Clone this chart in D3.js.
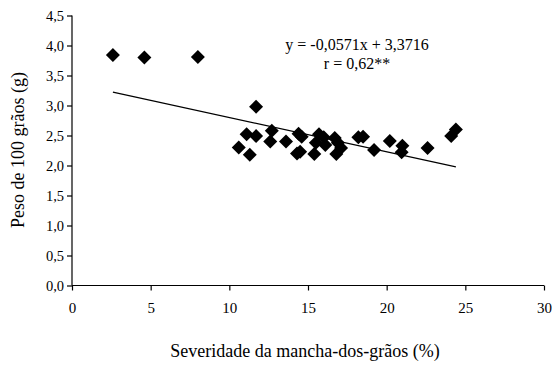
<!DOCTYPE html>
<html>
<head>
	<meta charset="utf-8">
	<title>Peso de 100 grãos x severidade</title>
	<script src="https://d3js.org/d3.v7.min.js"></script>
	<style type="text/css">
		body { margin:0; background:#fff; }
		svg text { font-family:"Liberation Serif","DejaVu Serif",serif; fill:#000; }
		.axis path, .axis line { stroke:#000; stroke-width:1.2; }
	</style>
</head>
<body>
	<script type="text/javascript">

		// severidade (%) e peso de 100 grãos (g)
		var severidade = [2.6, 4.6, 8.0, 11.7, 11.1, 11.7, 10.6, 11.3, 12.7, 12.6, 13.6,
			14.4, 14.6, 14.3, 14.5, 15.7, 15.5, 15.4, 16.0, 16.1, 16.7, 16.9, 16.8, 17.1,
			18.2, 18.5, 19.2, 20.2, 21.0, 20.95, 22.6, 24.1, 24.4];
		var peso = [3.84, 3.80, 3.81, 2.98, 2.52, 2.49, 2.30, 2.18, 2.58, 2.40, 2.40,
			2.53, 2.48, 2.20, 2.23, 2.52, 2.38, 2.19, 2.47, 2.34, 2.46, 2.38, 2.19, 2.29,
			2.47, 2.48, 2.26, 2.41, 2.33, 2.22, 2.29, 2.49, 2.60];

		var xTicks = [0, 5, 10, 15, 20, 25, 30];
		var yTicks = [0, 0.5, 1, 1.5, 2, 2.5, 3, 3.5, 4, 4.5];

		// regressão: y = -0,0571x + 3,3716
		var coefA = -0.0571, coefB = 3.3716;
		var equacao = ["y = -0,0571x + 3,3716", "r = 0,62**"];

		var w = 552, h = 365;
		var svg = d3.select("body").append("svg")
			.attr("width", w)
			.attr("height", h);

		var x = d3.scaleLinear().domain([0, 30]).range([72, 544]);
		var y = d3.scaleLinear().domain([0, 4.5]).range([285.5, 15.5]);

		// eixo x
		svg.append("g")
			.attr("class", "axis")
			.attr("transform", "translate(0," + y(0) + ")")
			.call(d3.axisBottom(x).tickValues(xTicks).tickSize(5).tickPadding(12)
				.tickFormat(d3.format("d")))
			.selectAll("text").style("font-size", "15px");

		// eixo y
		svg.append("g")
			.attr("class", "axis")
			.attr("transform", "translate(" + x(0) + ",0)")
			.call(d3.axisLeft(y).tickValues(yTicks).tickSize(5).tickPadding(3)
				.tickFormat(function(d){ return d3.format(".1f")(d).replace(".", ","); }))
			.selectAll("text").style("font-size", "14.5px");

		svg.selectAll(".axis .domain").attr("d", function(){
			return d3.select(this.parentNode).attr("transform").indexOf("translate(0") === 0
				? "M" + x(0) + ",0H" + x(30)
				: "M0," + y(0) + "V" + y(4.5);
		});

		// linha de tendência
		var xmin = d3.min(severidade), xmax = d3.max(severidade);
		svg.append("line")
			.attr("x1", x(xmin)).attr("y1", y(coefA * xmin + coefB))
			.attr("x2", x(xmax)).attr("y2", y(coefA * xmax + coefB))
			.attr("stroke", "#000")
			.attr("stroke-width", 1.2);

		// pontos (losangos)
		var r = 7;
		svg.selectAll("path.ponto")
			.data(severidade)
			.enter()
			.append("path")
				.attr("class", "ponto")
				.attr("d", function(d, i){
					var cx = x(d), cy = y(peso[i]);
					return "M" + cx + "," + (cy - r) + "L" + (cx + r) + "," + cy +
						"L" + cx + "," + (cy + r) + "L" + (cx - r) + "," + cy + "Z";
				})
				.attr("fill", "#000");

		// equação
		svg.selectAll("text.eq")
			.data(equacao)
			.enter()
			.append("text")
				.attr("class", "eq")
				.attr("x", 357)
				.attr("y", function(d, i){ return 50 + i * 19; })
				.attr("text-anchor", "middle")
				.style("font-size", "16px")
				.text(function(d){ return d; });

		// títulos dos eixos
		svg.append("text")
			.attr("x", 305)
			.attr("y", 357)
			.attr("text-anchor", "middle")
			.style("font-size", "18px")
			.text("Severidade da mancha-dos-grãos (%)");

		svg.append("text")
			.attr("transform", "translate(24,150) rotate(-90)")
			.attr("text-anchor", "middle")
			.style("font-size", "18px")
			.text("Peso de 100 grãos (g)");

	</script>
</body>
</html>
